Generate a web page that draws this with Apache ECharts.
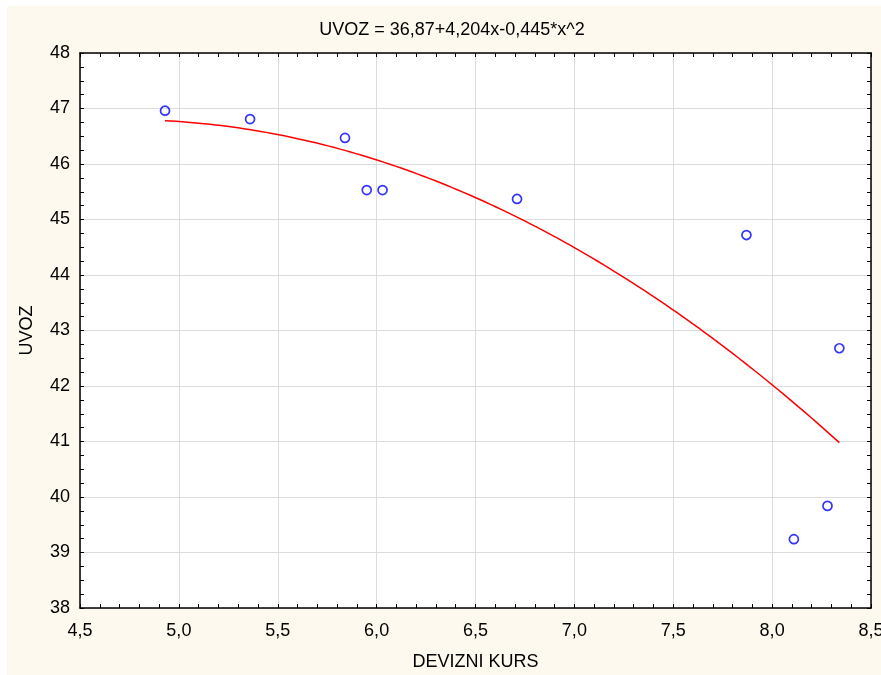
<!DOCTYPE html>
<html>
<head>
<meta charset="utf-8">
<script src="https://cdn.jsdelivr.net/npm/echarts@6/dist/echarts.min.js"></script>
<style>
  html, body { margin: 0; padding: 0; background: #ffffff; overflow: hidden; }
  #chart { width: 881px; height: 675px; }
</style>
</head>
<body>
<div id="chart"></div>
<script>
// Exchange rate (DEVIZNI KURS) against imports (UVOZ)
const deviznikurs = [4.93, 5.36, 5.84, 5.95, 6.03, 6.71, 7.87, 8.34, 8.28, 8.11];
const uvoz        = [46.96, 46.81, 46.47, 45.53, 45.53, 45.37, 44.72, 42.68, 39.84, 39.24];

// Quadratic fit coefficients: UVOZ = a + b*x + c*x^2
const fitCoef = [36.87, 4.204, -0.445];

const xTicks = { min: 4.5, max: 8.5, step: 0.5 };
const yTicks = { min: 38, max: 48, step: 1 };

const fmt = (v, d) => v.toFixed(d).replace('.', ',');
const titleText = 'UVOZ = ' + fmt(fitCoef[0], 2) + '+' + fmt(fitCoef[1], 3) + 'x-' + fmt(-fitCoef[2], 3) + '*x^2';

// Fitted curve sampled across the observed x range
const xLo = Math.min(...deviznikurs), xHi = Math.max(...deviznikurs);
const fitLine = [];
for (let i = 0; i <= 120; i++) {
  const x = xLo + (xHi - xLo) * i / 120;
  fitLine.push([x, fitCoef[0] + fitCoef[1] * x + fitCoef[2] * x * x]);
}

const FONT = "'Liberation Sans', Arial, sans-serif";
const FS = 18;
const tickStyle = { show: true, inside: true, length: 4, lineStyle: { color: '#000', width: 1 } };
const axisLine = { show: true, lineStyle: { color: '#000', width: 1.5 } };

const chart = echarts.init(document.getElementById('chart'), null, { renderer: 'canvas' });
chart.setOption({
  animation: false,
  backgroundColor: '#ffffff',
  graphic: [
    { type: 'rect', z: -100, shape: { x: 7, y: 6, width: 881, height: 675 }, style: { fill: '#fef9ee' }, silent: true },
    { type: 'text', x: 452, y: 30, style: { text: titleText, fontFamily: FONT, fontSize: FS, fill: '#000', textAlign: 'center', textVerticalAlign: 'middle' } }
  ],
  grid: {
    left: 80, right: 10, top: 53, bottom: 67,
    outerBoundsMode: 'none', containLabel: false,
    show: true, backgroundColor: '#ffffff', borderWidth: 0
  },
  xAxis: [
    {
      type: 'value', min: xTicks.min, max: xTicks.max, interval: xTicks.step, position: 'bottom',
      name: 'DEVIZNI KURS', nameLocation: 'middle', nameGap: 45,
      nameTextStyle: { fontFamily: FONT, fontSize: FS, color: '#000' },
      axisLine: axisLine, axisTick: tickStyle,
      minorTick: { show: true, splitNumber: 5, length: 4, lineStyle: { color: '#000', width: 1 } },
      axisLabel: { fontFamily: FONT, fontSize: FS, color: '#000', margin: 14, formatter: v => fmt(v, 1), hideOverlap: false },
      splitLine: { show: true, lineStyle: { color: '#dcdcdc', width: 1 } }
    },
    {
      type: 'value', min: xTicks.min, max: xTicks.max, interval: xTicks.step, position: 'top',
      axisLine: axisLine, axisTick: tickStyle,
      minorTick: { show: true, splitNumber: 5, length: 4, lineStyle: { color: '#000', width: 1 } },
      axisLabel: { show: false }, splitLine: { show: false }
    }
  ],
  yAxis: [
    {
      type: 'value', min: yTicks.min, max: yTicks.max, interval: yTicks.step, position: 'left',
      name: 'UVOZ', nameLocation: 'middle', nameGap: 44, nameRotate: 90,
      nameTextStyle: { fontFamily: FONT, fontSize: FS, color: '#000' },
      axisLine: axisLine, axisTick: tickStyle,
      minorTick: { show: true, splitNumber: 4, length: 4, lineStyle: { color: '#000', width: 1 } },
      axisLabel: { fontFamily: FONT, fontSize: FS, color: '#000', margin: 10 },
      splitLine: { show: true, lineStyle: { color: '#dcdcdc', width: 1 } }
    },
    {
      type: 'value', min: yTicks.min, max: yTicks.max, interval: yTicks.step, position: 'right',
      axisLine: axisLine, axisTick: tickStyle,
      minorTick: { show: true, splitNumber: 4, length: 4, lineStyle: { color: '#000', width: 1 } },
      axisLabel: { show: false }, splitLine: { show: false }
    }
  ],
  series: [
    {
      type: 'line', data: fitLine, xAxisIndex: 0, yAxisIndex: 0,
      showSymbol: false, smooth: false,
      lineStyle: { color: '#ff0000', width: 1.5 }, z: 2
    },
    {
      type: 'scatter', data: deviznikurs.map((x, i) => [x, uvoz[i]]), xAxisIndex: 0, yAxisIndex: 0,
      symbol: 'circle', symbolSize: 9,
      itemStyle: { color: 'rgba(0,0,0,0)', borderColor: '#0000ff', borderWidth: 1.7 }, z: 3
    }
  ]
});
</script>
</body>
</html>
